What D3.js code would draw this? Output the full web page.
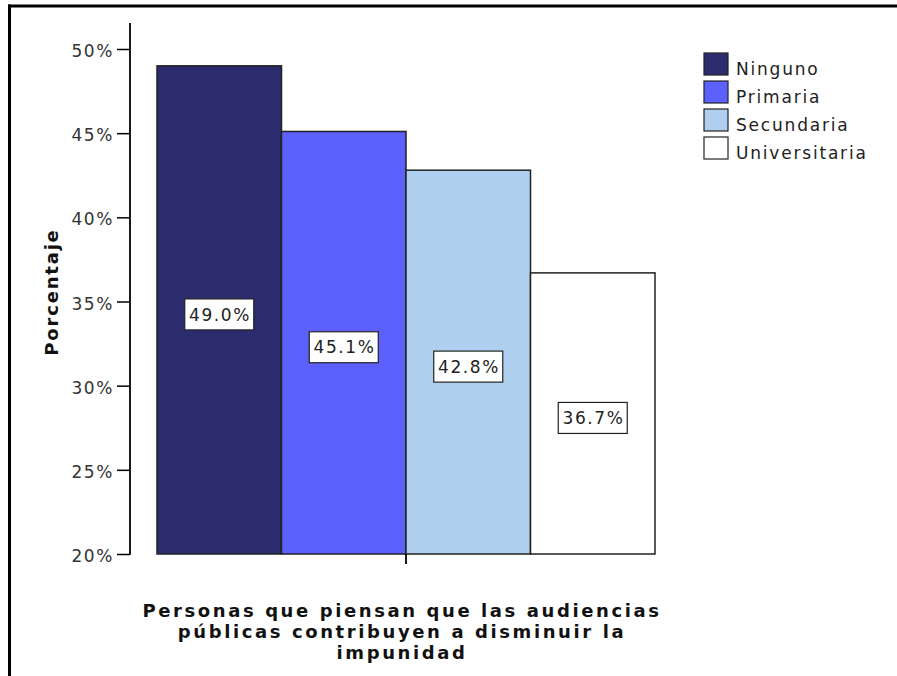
<!DOCTYPE html>
<html>
<head>
<meta charset="utf-8">
<script src="https://cdn.jsdelivr.net/npm/d3@7"></script>
<style>
  html, body { margin: 0; padding: 0; background: #fff; }
  svg { display: block; }
</style>
</head>
<body>
<svg id="chart" width="897" height="676"></svg>
<script>
const categories = ["Personas que piensan que las audiencias públicas contribuyen a disminuir la impunidad"];
const series = ["Ninguno", "Primaria", "Secundaria", "Universitaria"];
const values = [49.0, 45.1, 42.8, 36.7];
const colors = ["#2a2c6e", "#5c61fe", "#aed0ee", "#ffffff"];
const yTicks = [20, 25, 30, 35, 40, 45, 50];
const titleLines = ["Personas que piensan que las audiencias", "públicas contribuyen a disminuir la", "impunidad"];
const yTitle = "Porcentaje";

const svg = d3.select("#chart");
const font = "'DejaVu Sans', Verdana, sans-serif";

// frame (top and left edges visible)
svg.append("line").attr("x1", 8).attr("x2", 897).attr("y1", 6).attr("y2", 6)
  .attr("stroke", "#000").attr("stroke-width", 3);
svg.append("line").attr("x1", 9.5).attr("x2", 9.5).attr("y1", 4.5).attr("y2", 676)
  .attr("stroke", "#000").attr("stroke-width", 3);

const y = d3.scaleLinear().domain([20, 50]).range([554, 49]);
const x0 = d3.scaleBand().domain(categories).range([157, 655]).padding(0);
const x1 = d3.scaleBand().domain(series).range([0, x0.bandwidth()]).padding(0);

// y axis
const yAxis = d3.axisLeft(y).tickValues(yTicks).tickFormat(d => d + "%").tickSize(13).tickPadding(3);
const gy = svg.append("g").attr("transform", "translate(130,0)").call(yAxis);
gy.select(".domain").remove();
gy.selectAll(".tick line").attr("stroke", "#000").attr("stroke-width", 1.5);
gy.selectAll(".tick text").attr("font-family", font).attr("font-size", 17).attr("fill", "#333")
  .attr("letter-spacing", "1.6px").attr("dy", "0.45em");
svg.append("line").attr("x1", 130).attr("x2", 130).attr("y1", 23).attr("y2", y(20) + 0.75)
  .attr("stroke", "#000").attr("stroke-width", 1.8);

// bars
const g = svg.append("g").attr("transform", `translate(${x0(categories[0])},0)`);
g.selectAll("rect").data(series).join("rect")
  .attr("x", d => x1(d))
  .attr("y", (d, i) => y(values[i]))
  .attr("width", x1.bandwidth())
  .attr("height", (d, i) => y(20) - y(values[i]))
  .attr("fill", (d, i) => colors[i])
  .attr("stroke", "#222")
  .attr("stroke-width", 1.5);

// value labels
series.forEach((s, i) => {
  const cx = x1(s) + x1.bandwidth() / 2;
  const cy = (y(values[i]) + y(20)) / 2 + 4.5;
  const lg = g.append("g");
  lg.append("rect").attr("x", cx - 34.5).attr("y", cy - 15.5).attr("width", 69).attr("height", 31)
    .attr("fill", "#fff").attr("stroke", "#222").attr("stroke-width", 1.2);
  lg.append("text").attr("x", cx + 0.8).attr("y", cy).attr("text-anchor", "middle")
    .attr("dy", "0.36em").attr("font-family", font).attr("font-size", 17).attr("fill", "#222")
    .attr("letter-spacing", "1.6px")
    .text(values[i].toFixed(1) + "%");
});

// x axis tick
const xAxis = d3.axisBottom(x0).tickSize(10).tickFormat("");
const gx = svg.append("g").attr("transform", `translate(0,${y(20)})`).call(xAxis);
gx.select(".domain").remove();
gx.selectAll(".tick line").attr("stroke", "#000").attr("stroke-width", 1.8);

// x title
const tx = svg.append("text").attr("text-anchor", "middle").attr("font-family", font)
  .attr("font-size", 18).attr("font-weight", "bold").attr("fill", "#111").attr("letter-spacing", "2.6px");
titleLines.forEach((l, i) => {
  tx.append("tspan").attr("x", 402).attr("y", 616.5 + i * 21).text(l);
});

// y title
svg.append("text").attr("transform", "translate(58,292) rotate(-90)").attr("text-anchor", "middle")
  .attr("font-family", font).attr("font-size", 18).attr("font-weight", "bold").attr("fill", "#111")
  .attr("letter-spacing", "1.8px").text(yTitle);

// legend
const leg = svg.append("g").attr("transform", "translate(704,53)");
series.forEach((s, i) => {
  const row = leg.append("g").attr("transform", `translate(0,${i * 28})`);
  row.append("rect").attr("width", 24).attr("height", 22).attr("fill", colors[i])
    .attr("stroke", "#222").attr("stroke-width", 1.2);
  row.append("text").attr("x", 32).attr("y", 22).attr("font-family", font).attr("font-size", 17)
    .attr("fill", "#222").attr("letter-spacing", "1.8px").text(s);
});
</script>
</body>
</html>
